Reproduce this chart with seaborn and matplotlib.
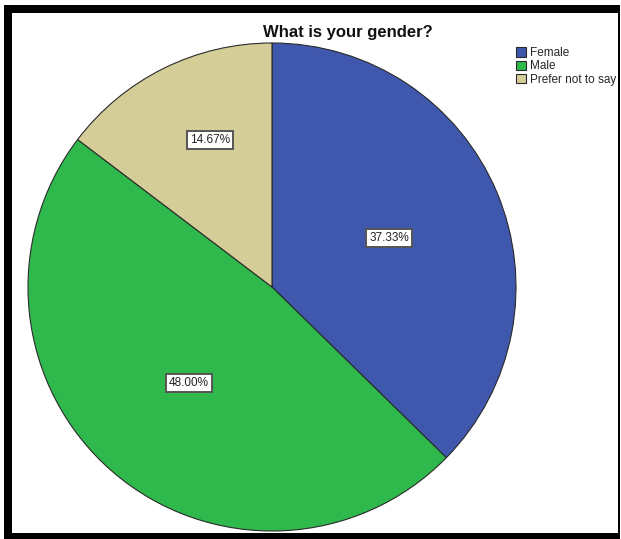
import matplotlib
matplotlib.use('Agg')
import matplotlib.pyplot as plt
from matplotlib.patches import Rectangle
import seaborn as sns

# Survey answers, share of respondents in percent
genders = ['Female', 'Male', 'Prefer not to say']
shares = [37.33, 48.00, 14.67]
slice_colors = ['#3f58ad', '#2fb84b', '#d5cd98']

sns.set_theme(style='white')
plt.rcParams['font.family'] = ['Liberation Sans', 'DejaVu Sans']

W, H = 621, 539
fig = plt.figure(figsize=(W / 100, H / 100), dpi=100)

# thick black frame around the chart area (like the pasted SPSS output)
fig.add_artist(Rectangle((4 / W, 0), 616 / W, 534 / H, transform=fig.transFigure,
                         facecolor='black', edgecolor='none', zorder=-2))
fig.add_artist(Rectangle((12 / W, 6 / H), 606 / W, 520 / H, transform=fig.transFigure,
                         facecolor='white', edgecolor='none', zorder=-1))

# pie centre ~ (272, 287) px, radius ~244 px
cx, cy, r = 272, 287, 244
ax = fig.add_axes([(cx - r) / W, (H - cy - r) / H, 2 * r / W, 2 * r / H])
ax.patch.set_alpha(0)

wedges, texts, autotexts = ax.pie(
    shares, colors=sns.color_palette(slice_colors), startangle=90, counterclock=False,
    autopct='%.2f%%', pctdistance=0.52,
    wedgeprops=dict(edgecolor='#2a2a2a', linewidth=0.8),
    textprops=dict(fontsize=8.5, color='#222222'))

# SPSS pushes the small slice label further out
label_scale = [(1.0, 1.0), (1.0, 1.0), (1.1, 1.29)]
for t, (sx, sy) in zip(autotexts, label_scale):
    x, y = t.get_position()
    t.set_position((x * sx, y * sy))
    t.set_bbox(dict(boxstyle='square,pad=0.25', facecolor='white',
                    edgecolor='#555555', linewidth=1.4))

ax.set_xlim(-1, 1)
ax.set_ylim(-1, 1)
ax.axis('off')

fig.text(348 / W, 1 - 33 / H, 'What is your gender?', ha='center', va='center',
         fontsize=12, fontweight='bold', color='#111111')

fig.legend(wedges, genders, loc='upper left', bbox_to_anchor=(516 / W, 1 - 47 / H),
           frameon=False, fontsize=8.5, handlelength=0.85, handleheight=0.85,
           handletextpad=0.3, labelspacing=0.12, borderpad=0, borderaxespad=0)

fig.savefig('out.png', dpi=100)
